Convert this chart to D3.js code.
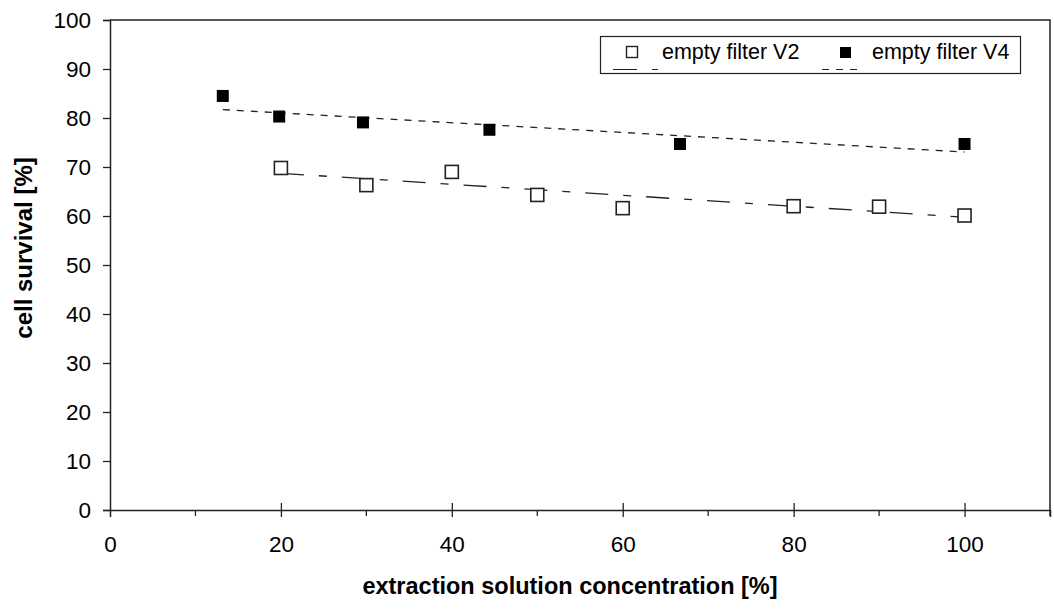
<!DOCTYPE html>
<html>
<head>
<meta charset="utf-8">
<script src="https://cdn.jsdelivr.net/npm/d3@7"></script>
<style>
  body { margin: 0; background: #fff; }
  svg text { font-family: "Liberation Sans", Arial, sans-serif; fill: #000; }
</style>
</head>
<body>
<div id="chart"></div>
<script>
"use strict";
// data
var v2Conc = [20, 30, 40, 50, 60, 80, 90, 100];
var v2Surv = [69.8, 66.3, 69.0, 64.3, 61.6, 62.0, 61.9, 60.1];
var v4Conc = [13.2, 19.8, 29.6, 44.4, 66.7, 100];
var v4Surv = [84.5, 80.3, 79.1, 77.6, 74.7, 74.7];
var yTicks = [0, 10, 20, 30, 40, 50, 60, 70, 80, 90, 100];
var xMajor = [0, 20, 40, 60, 80, 100];
var xMinor = [10, 30, 50, 70, 90, 110];
var seriesNames = ["empty filter V2", "empty filter V4"];

var W = 1054, H = 613;
var m = {left: 110, right: 4, top: 20, bottom: 103};

var svg = d3.select("#chart").append("svg")
  .attr("width", W).attr("height", H);

var x = d3.scaleLinear().domain([0, 110]).range([m.left, W - m.right]);
var y = d3.scaleLinear().domain([0, 100]).range([H - m.bottom, m.top]);

var ink = "#222";

// plot frame (top + right)
svg.append("path")
  .attr("d", "M" + x(0) + "," + y(100) + "H" + x(110) + "V" + y(0))
  .attr("fill", "none").attr("stroke", ink).attr("stroke-width", 1.5);

// y axis
var yAxis = svg.append("g").attr("transform", "translate(" + x(0) + ",0)")
  .call(d3.axisLeft(y).tickValues(yTicks).tickSize(7).tickPadding(12));
yAxis.select(".domain").attr("stroke", ink).attr("stroke-width", 1.5);
yAxis.selectAll(".tick line").attr("stroke", ink).attr("stroke-width", 1.3);
yAxis.selectAll("text").style("font-size", "22.5px").attr("fill", "#000");

// x axis, majors cross the line, minors go down
var xAxis = svg.append("g").attr("transform", "translate(0," + y(0) + ")")
  .call(d3.axisBottom(x).tickValues(xMajor).tickSize(7).tickPadding(19));
xAxis.select(".domain").attr("stroke", ink).attr("stroke-width", 1.5);
xAxis.selectAll(".tick line").attr("y1", -7).attr("stroke", ink).attr("stroke-width", 1.3);
xAxis.selectAll(".tick").filter(function(d) { return d === 0; }).select("line").remove();
xAxis.selectAll("text").style("font-size", "22.5px").attr("fill", "#000");
xAxis.selectAll(".minor").data(xMinor).enter().append("line")
  .attr("x1", function(d) { return x(d); }).attr("x2", function(d) { return x(d); })
  .attr("y1", 0).attr("y2", 6).attr("stroke", ink).attr("stroke-width", 1.3);

// axis titles
svg.append("text")
  .attr("x", 570).attr("y", 594)
  .attr("text-anchor", "middle")
  .style("font-size", "23.5px").style("font-weight", "bold")
  .text("extraction solution concentration [%]");
svg.append("text")
  .attr("transform", "translate(32,248) rotate(-90)")
  .attr("text-anchor", "middle")
  .style("font-size", "24px").style("font-weight", "bold")
  .text("cell survival [%]");

// linear trend (least squares)
function fit(xs, ys) {
  var mx = d3.mean(xs), my = d3.mean(ys);
  var sxy = d3.sum(xs, function(v, i) { return (v - mx) * (ys[i] - my); });
  var sxx = d3.sum(xs, function(v) { return (v - mx) * (v - mx); });
  var b = sxy / sxx;
  return function(v) { return my + b * (v - mx); };
}
var f2 = fit(v2Conc, v2Surv), f4 = fit(v4Conc, v4Surv);
var dash2 = "23,15,8,15", dash4 = "7,7";

svg.append("line")
  .attr("x1", x(d3.min(v2Conc))).attr("y1", y(f2(d3.min(v2Conc))))
  .attr("x2", x(d3.max(v2Conc))).attr("y2", y(f2(d3.max(v2Conc))))
  .attr("stroke", ink).attr("stroke-width", 1.3).attr("stroke-dasharray", dash2);
svg.append("line")
  .attr("x1", x(d3.min(v4Conc))).attr("y1", y(f4(d3.min(v4Conc))))
  .attr("x2", x(d3.max(v4Conc))).attr("y2", y(f4(d3.max(v4Conc))))
  .attr("stroke", ink).attr("stroke-width", 1.3).attr("stroke-dasharray", dash4);

// markers
var s2 = 13, s4 = 12;
svg.selectAll(".v2").data(v2Conc).enter().append("rect")
  .attr("x", function(d) { return x(d) - s2 / 2; })
  .attr("y", function(d, i) { return y(v2Surv[i]) - s2 / 2; })
  .attr("width", s2).attr("height", s2)
  .attr("fill", "#fff").attr("stroke", ink).attr("stroke-width", 1.6);
svg.selectAll(".v4").data(v4Conc).enter().append("rect")
  .attr("x", function(d) { return x(d) - s4 / 2; })
  .attr("y", function(d, i) { return y(v4Surv[i]) - s4 / 2; })
  .attr("width", s4).attr("height", s4)
  .attr("fill", "#000");

// legend
var lg = svg.append("g");
lg.append("rect").attr("x", 600.5).attr("y", 36.5).attr("width", 420).attr("height", 37)
  .attr("fill", "#fff").attr("stroke", ink).attr("stroke-width", 1.2);
lg.append("rect").attr("x", 626.5).attr("y", 46.5).attr("width", 11).attr("height", 11)
  .attr("fill", "#fff").attr("stroke", ink).attr("stroke-width", 1.4);
lg.append("rect").attr("x", 840).attr("y", 47).attr("width", 11).attr("height", 11)
  .attr("fill", "#000");
lg.append("line").attr("x1", 613).attr("x2", 658).attr("y1", 69.5).attr("y2", 69.5)
  .attr("stroke", ink).attr("stroke-width", 1.2).attr("stroke-dasharray", "24,15,6,15");
lg.append("line").attr("x1", 822).attr("x2", 862).attr("y1", 69.5).attr("y2", 69.5)
  .attr("stroke", ink).attr("stroke-width", 1.2).attr("stroke-dasharray", dash4);
lg.append("text").attr("x", 662).attr("y", 59).style("font-size", "21.5px").text(seriesNames[0]);
lg.append("text").attr("x", 872).attr("y", 59).style("font-size", "21.5px").text(seriesNames[1]);
</script>
</body>
</html>
